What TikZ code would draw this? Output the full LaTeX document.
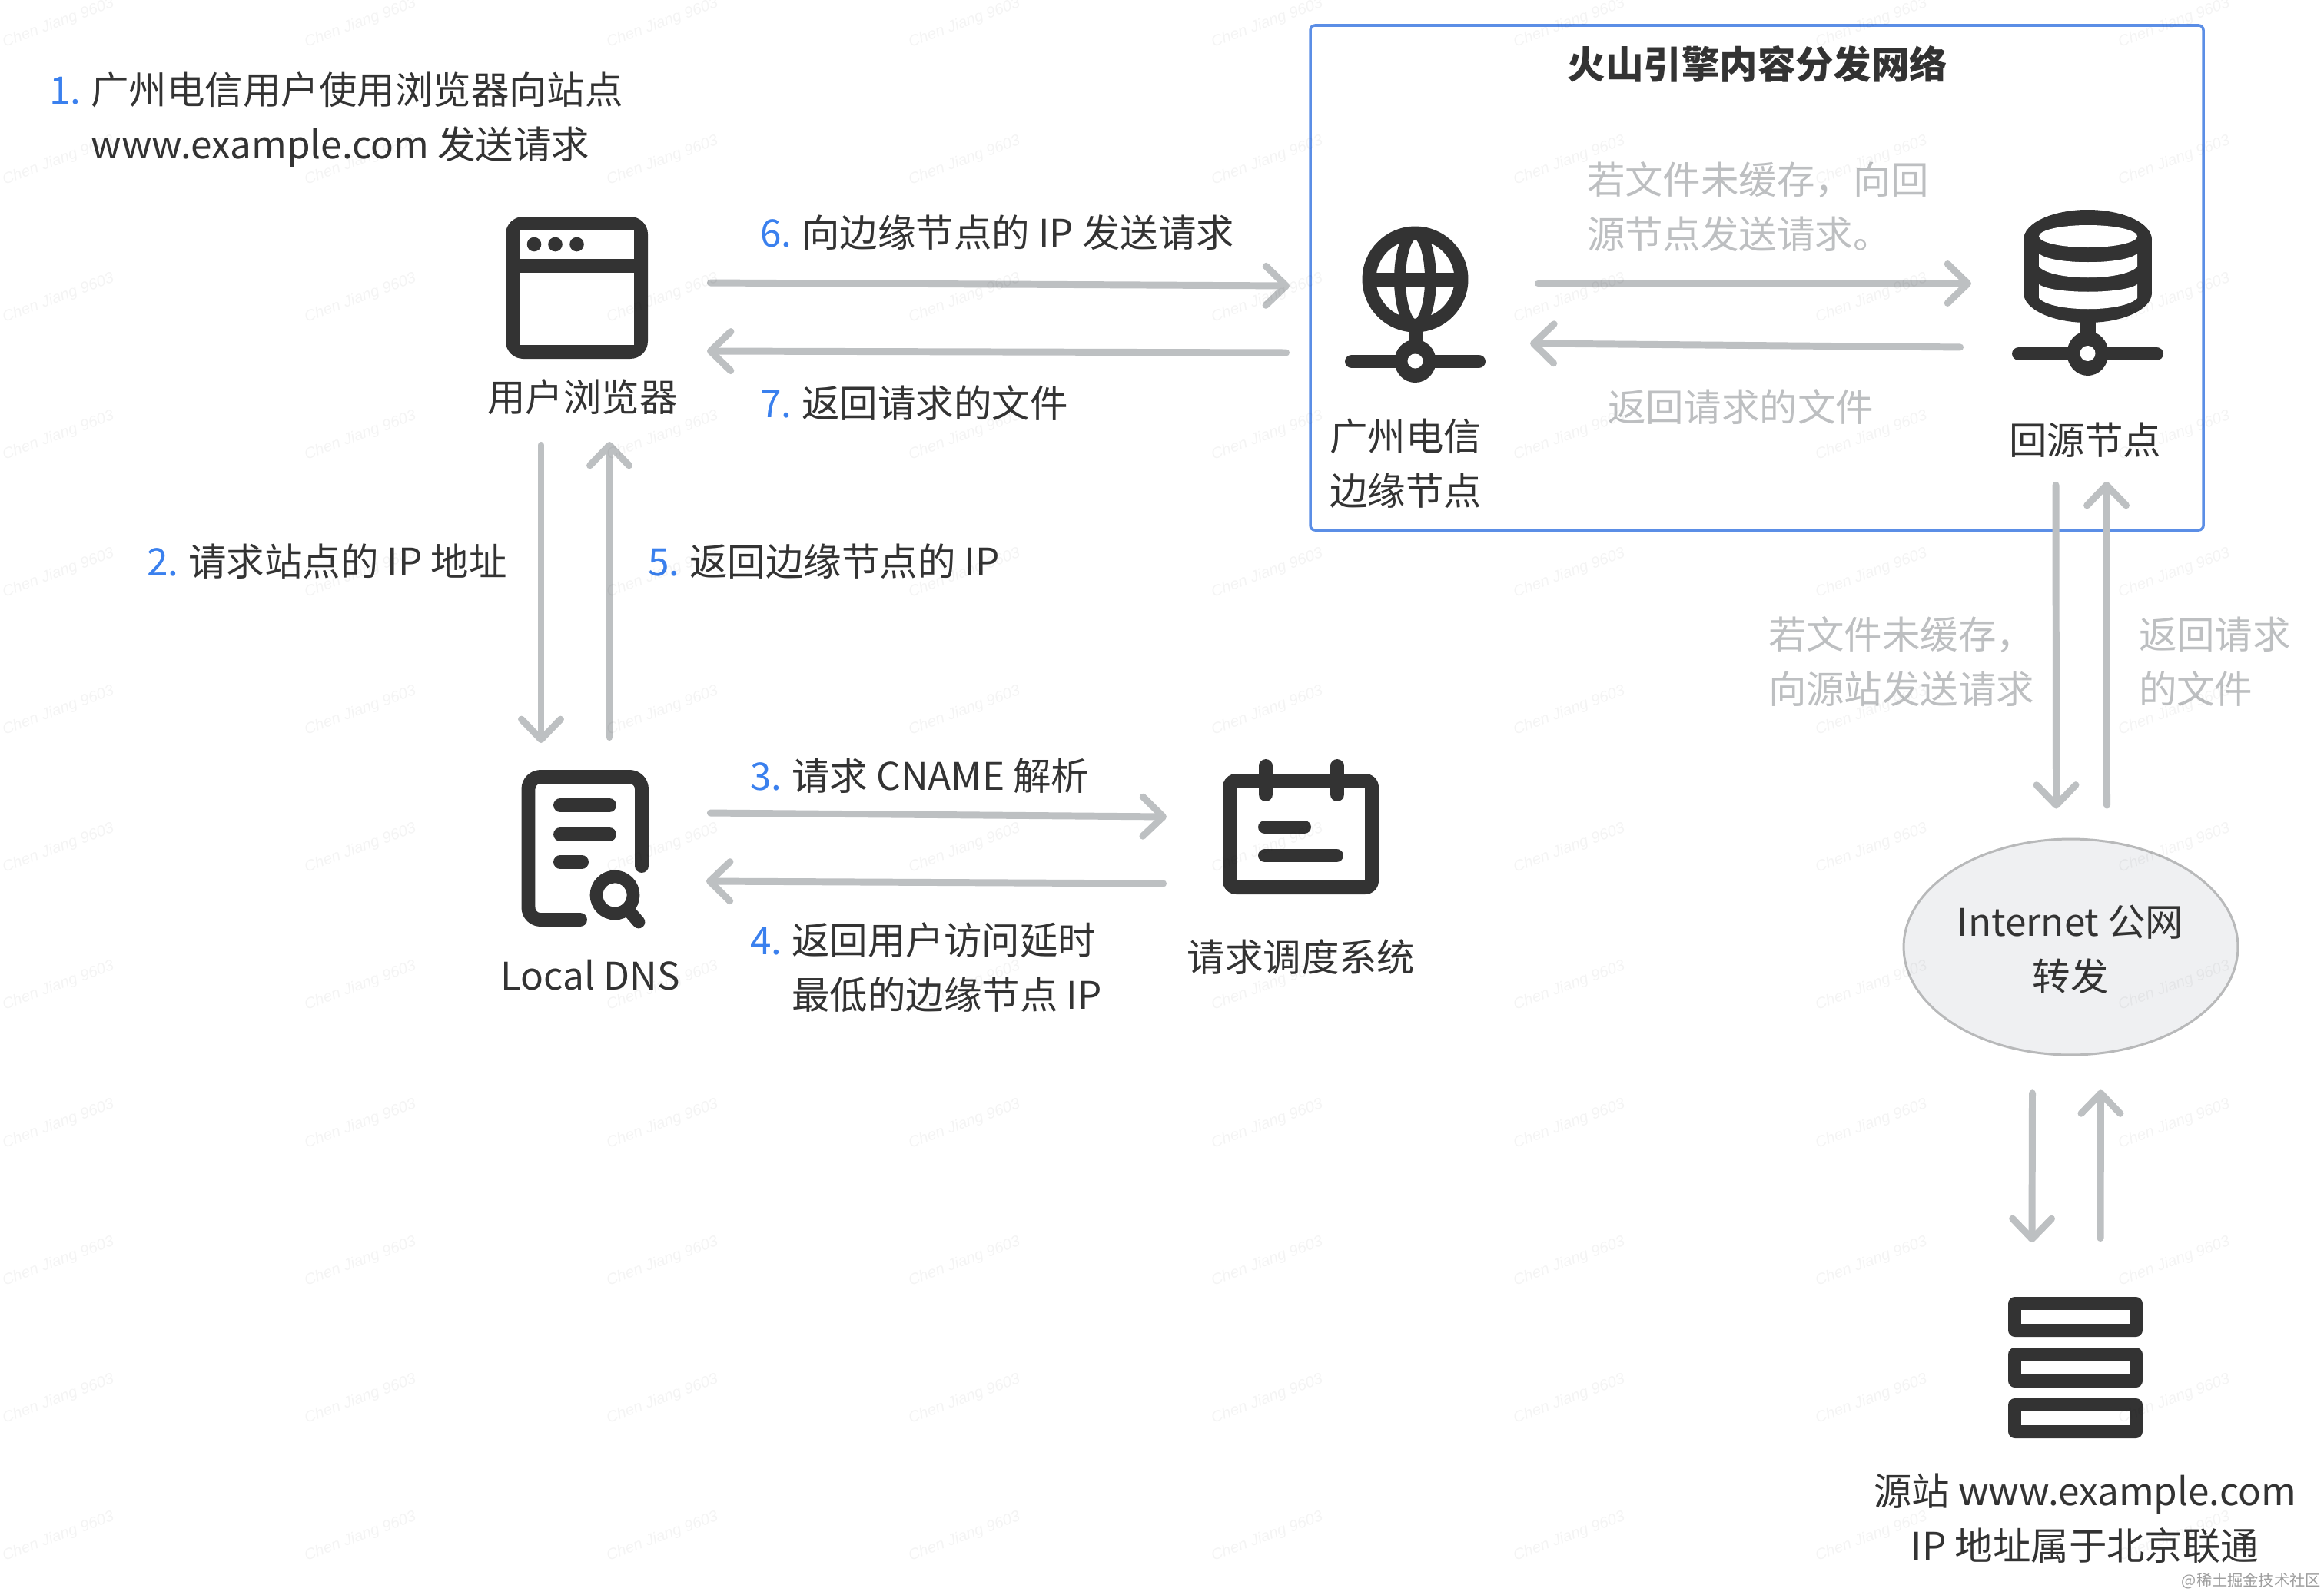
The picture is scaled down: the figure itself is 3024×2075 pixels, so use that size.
\documentclass[tikz,border=0pt]{standalone}
\usepackage{fontspec}
\usetikzlibrary{arrows.meta,calc,fit,shapes.geometric}
\setmainfont{Noto Sans CJK SC}
\newfontfamily\wmfont{Liberation Sans}
\definecolor{ic}{HTML}{333333}
\definecolor{txt}{HTML}{333333}
\definecolor{numblue}{HTML}{3A80EE}
\definecolor{greytxt}{HTML}{BDBFC1}
\definecolor{arrowgrey}{HTML}{BDC0C2}
\definecolor{boxblue}{HTML}{5B8EE6}
\definecolor{cloudfill}{HTML}{EFF0F2}
\definecolor{cloudline}{HTML}{B8B9BA}
\newcommand{\stepnum}[1]{\makebox[31pt][l]{\textcolor{numblue}{#1}}}
\tikzset{
  x=0.02cm,y=-0.02cm,
  label text/.style={font=\fontsize{28.15}{40.4}\selectfont,text=txt,inner sep=0,outer sep=0},
  left text/.style={label text,anchor=west,align=left},
  centre text/.style={label text,anchor=center,align=center},
  grey text/.style={left text,text=greytxt},
  flow/.style={draw=arrowgrey,line width=5.1pt,line cap=round,line join=round,shorten <=2.5pt,
    -{Straight Barb[length=15pt,width=29pt,round]}},
  iconbox/.style={inner sep=0,outer sep=0},
  iconline/.style={draw=ic,line width=10.2pt,line cap=round,line join=round},
  iconfill/.style={fill=ic},
  hole/.style={fill=white},
  wmark/.style={font=\wmfont\itshape\fontsize{11.5}{14}\selectfont,text=black,text opacity=0.045,rotate=20,inner sep=0},
}
\begin{document}
\begin{tikzpicture}
\useasboundingbox (0,0) rectangle (3024,2075);
\fill[white] (0,0) rectangle (3024,2075);

% CDN region
\node[draw=boxblue,line width=2pt,rounded corners=3.5pt,inner sep=0,fit={(1705,33)(2867,690)}] (cdn) {};

% icon holders
\node[iconbox,fit={(658,282)(843,467)}] (browser) {};
\node[iconbox,fit={(678,1002)(845,1207)}] (dns) {};
\node[iconbox,fit={(1591,988)(1794,1164)}] (sched) {};
\node[iconbox,fit={(1750,294)(1933,498)}] (edge) {};
\node[iconbox,fit={(2618,273)(2815,489)}] (origin) {};
\node[iconbox,fit={(2613,1688)(2788,1872)}] (site) {};

% browser icon
\fill[iconfill,rounded corners=13pt] (658,282) rectangle (843,467);
\fill[hole] (676,300) rectangle (825,337);
\fill[hole] (676,355) rectangle (825,449);
\foreach \dx in {695,722.5,750.5} \fill[iconfill] (\dx,318) circle (9.3);

% local dns icon
\draw[iconline,rounded corners=9pt] (835,1127) -- (835,1011) -- (687.5,1011) -- (687.5,1197) -- (755,1197);
\draw[iconline] (729,1048) -- (793,1048);
\draw[iconline] (729,1086) -- (793,1086);
\draw[iconline] (729,1122) -- (757,1122);
\draw[draw=ic,line width=9.5pt] (800,1165) circle (24);
\draw[draw=ic,line width=9.5pt,line cap=round] (818,1185) -- (831,1200);

% scheduler icon
\fill[iconfill,rounded corners=10pt] (1591,1007) rectangle (1794,1164);
\fill[hole] (1609,1026) rectangle (1776,1146);
\draw[iconline] (1647,997) -- (1647,1034);
\draw[iconline] (1740,997) -- (1740,1034);
\draw[iconline] (1646,1076.5) -- (1697,1076.5);
\draw[iconline] (1646,1113.5) -- (1739,1113.5);

% edge node icon
\draw[iconline] (1841.5,363.5) circle (60);
\draw[draw=ic,line width=8.5pt] (1841.5,363.5) ellipse [x radius=20,y radius=60];
\draw[iconline,line cap=butt] (1785,364) -- (1898,364);
\fill[iconfill] (1833,425) rectangle (1851,450);
\draw[iconline,line cap=round] (1759,470.5) -- (1924,470.5);
\fill[iconfill] (1841.5,470) ellipse [x radius=27,y radius=28];
\fill[hole] (1841.5,470) ellipse [x radius=10,y radius=9.5];

% origin node icon
\fill[iconfill] (2716.5,312) ellipse [x radius=83.5,y radius=39];
\fill[iconfill] (2716.5,381) ellipse [x radius=83.5,y radius=39];
\fill[iconfill] (2633,312) rectangle (2800,381);
\fill[hole] (2717,307.5) ellipse [x radius=64,y radius=14.5];
\fill[hole] (2653,330) .. controls (2670,345) and (2764,345) .. (2781,330) -- (2781,347) .. controls (2764,366) and (2670,366) .. (2653,347) -- cycle;
\fill[hole] (2653,370) .. controls (2670,383) and (2764,383) .. (2781,370) -- (2781,388) .. controls (2764,407) and (2670,407) .. (2653,388) -- cycle;
\fill[iconfill] (2707,415) rectangle (2727,440);
\draw[iconline,line cap=round] (2627,460.5) -- (2806,460.5);
\fill[iconfill] (2716.5,460) ellipse [x radius=27,y radius=29];
\fill[hole] (2716.5,460) ellipse [x radius=10,y radius=10];

% source site icon
\foreach \ty/\by/\ity/\iby in {1688/1740/1705/1723,1754/1806/1771/1789,1820/1872/1837/1855}{
  \fill[iconfill,rounded corners=5pt] (2613,\ty) rectangle (2788,\by);
  \fill[hole] (2630,\ity) rectangle (2771,\iby);
}

% internet cloud
\node[ellipse,draw=cloudline,fill=cloudfill,line width=1.7pt,minimum width=8.7cm,minimum height=5.62cm,inner sep=0] (inet) at (2694.5,1232.5) {};
\node[centre text] (linet) at (2694,1236) {Internet 公网\\转发};

% connectors
\draw[flow] ($(browser.east)+(77,-6.5)$) -- ($(edge.west)+(-72,-24)$);
\draw[flow] ($(edge.west)+(-72,63)$) -- ($(browser.east)+(77,82.5)$);
\draw[flow] ($(browser.south)+(-46.5,108)$) -- ($(dns.north)+(-57.5,-35)$);
\draw[flow] ($(dns.north)+(31.5,-38)$) -- ($(browser.south)+(42.5,108)$);
\draw[flow] ($(dns.east)+(75,-46.5)$) -- ($(sched.west)+(-73,-13)$);
\draw[flow] ($(sched.west)+(-73,74)$) -- ($(dns.east)+(74,42.5)$);
\draw[flow] ($(edge.east)+(64,-27)$) -- ($(origin.west)+(-53,-12)$);
\draw[flow] ($(origin.west)+(-63,71)$) -- ($(edge.east)+(58,51)$);
\draw[flow] ($(origin.south)+(-41.5,138)$) -- ($(inet.north)+(-19,-38)$);
\draw[flow] ($(inet.north)+(47,-38)$) -- ($(origin.south)+(24.5,138)$);
\draw[flow] ($(inet.south)+(-50,44)$) -- ($(site.north)+(-56.5,-71)$);
\draw[flow] ($(site.north)+(32.5,-72)$) -- ($(inet.south)+(39,44)$);

% labels
\node[left text] (t1) at (64,155.5) {\stepnum{1.}广州电信用户使用浏览器向站点\\\hspace*{31pt}www.example.com 发送请求};
\node[left text] (t6) at (989,303) {\stepnum{6.}向边缘节点的 IP 发送请求};
\node[left text] (t7) at (989,525) {\stepnum{7.}返回请求的文件};
\node[left text] (t2) at (191,731) {\stepnum{2.}请求站点的 IP 地址};
\node[left text] (t5) at (843,731) {\stepnum{5.}返回边缘节点的 IP};
\node[left text] (t3) at (976,1010) {\stepnum{3.}请求 CNAME 解析};
\node[left text] (t4) at (976,1259) {\stepnum{4.}返回用户访问延时\\\hspace*{31pt}最低的边缘节点 IP};
\node[centre text] (lbrowser) at (758,517) {用户浏览器};
\node[centre text] (ldns) at (768,1269) {Local DNS};
\node[centre text] (lsched) at (1693,1246) {请求调度系统};
\node[centre text] (ledge) at (1829,603) {广州电信\\边缘节点};
\node[centre text] (lorigin) at (2713,573) {回源节点};
\node[centre text,font=\fontsize{28.15}{40.4}\selectfont\bfseries] (ltitle) at (2287,83) {火山引擎内容分发网络};
\node[grey text] (g1) at (2065,269) {若文件未缓存，向回\\源节点发送请求。};
\node[grey text] (g2) at (2092,530) {返回请求的文件};
\node[grey text] (g3) at (2301,861) {若文件未缓存，\\向源站发送请求};
\node[grey text] (g4) at (2783,861) {返回请求\\的文件};
\node[centre text] (lsite) at (2713,1976) {源站 www.example.com\\IP 地址属于北京联通};
\node[inner sep=0,anchor=east,font=\fontsize{11.5}{14}\selectfont,text=black!38] (credit) at (3020,2058) {@稀土掘金技术社区};

% watermark
\foreach \i/\wx in {0/76,1/469,2/862,3/1255,4/1649,5/2042,6/2435,7/2829}{
  \foreach \j/\wy in {0/30,1/209,2/388,3/567,4/746,5/925,6/1104,7/1283,8/1463,9/1642,10/1821,11/2000}{
    \node[wmark] (wm\i-\j) at (\wx,\wy) {Chen Jiang 9603};
  }
}
\end{tikzpicture}
\end{document}
